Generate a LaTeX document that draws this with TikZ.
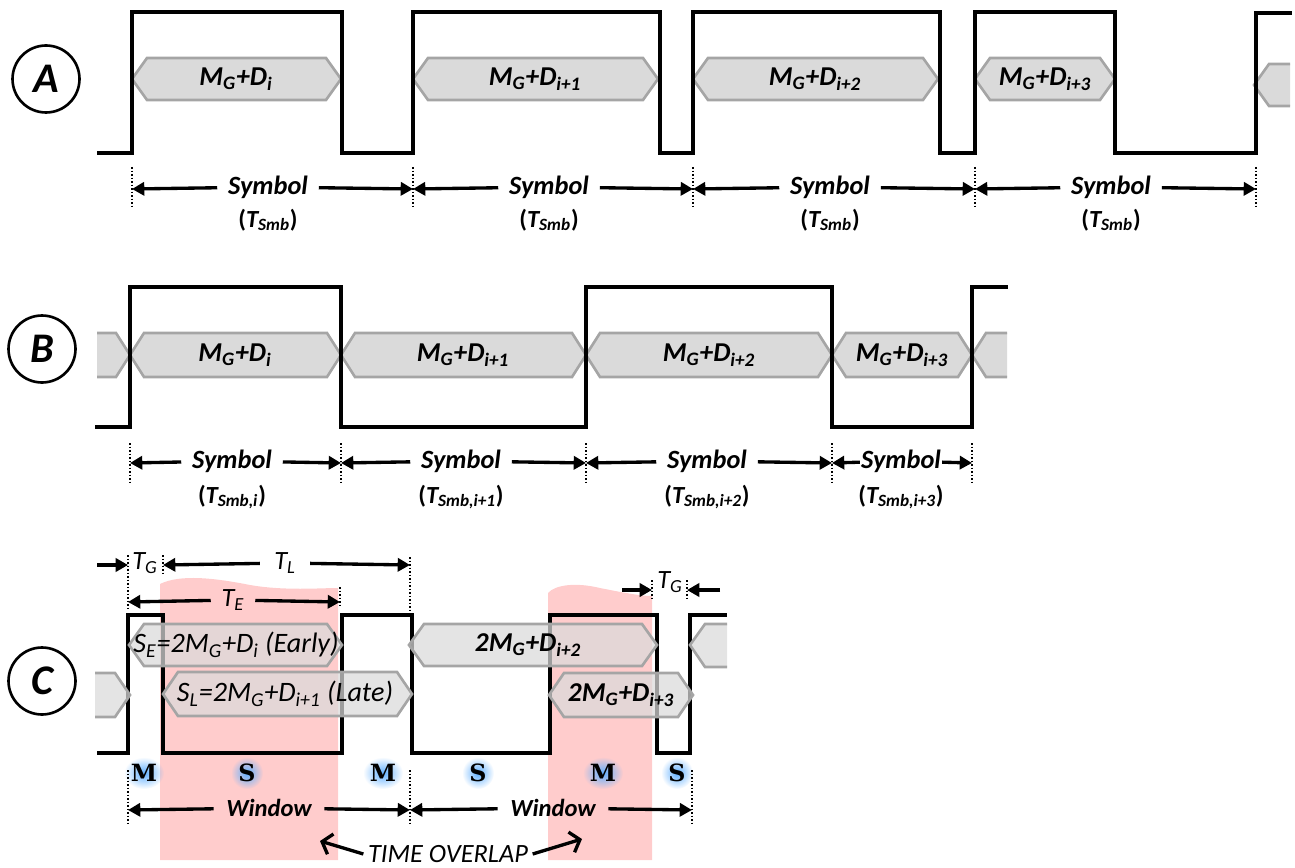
\documentclass[tikz,border=0pt]{standalone}
\usepackage{fontspec}
\setmainfont{Carlito}
\newfontfamily\slabfont{DejaVu Serif}
\usetikzlibrary{arrows.meta,fadings}
\definecolor{hexfill}{RGB}{218,218,218}
\definecolor{hexline}{RGB}{165,165,165}
\definecolor{pinkwin}{RGB}{255,204,204}
\definecolor{glowblue}{RGB}{95,175,255}
\tikzfading[name=glowfade, inner color=transparent!0, outer color=transparent!100]
\tikzset{
  sig/.style={line width=2.8pt, line join=miter, black},
  hexsh/.style={fill=hexfill, draw=hexline, line width=1.5pt, line join=miter},
  hexc/.style={hexsh, fill opacity=0.72},
  dotl/.style={line width=0.8pt, dash pattern=on 1pt off 1pt},
  arr/.style={line width=1.9pt, -{Triangle[length=7pt,width=7.5pt]}},
  barb/.style={line width=1.9pt, -{Straight Barb[length=5pt,width=12pt]}},
  lab/.style={font=\fontsize{15.5}{17}\selectfont\bfseries\itshape, inner sep=0pt},
  labc/.style={font=\fontsize{16}{18}\selectfont\itshape, inner sep=0pt},
  symlab/.style={font=\fontsize{15}{17}\selectfont\bfseries\itshape, inner xsep=6pt, inner ysep=0pt},
  tsub/.style={font=\fontsize{14}{16}\selectfont\bfseries\itshape, inner sep=0pt},
  tlab/.style={font=\fontsize{15}{17}\selectfont\itshape, inner xsep=5pt, inner ysep=0pt},
  winlab/.style={font=\fontsize{14}{16}\selectfont\bfseries\itshape, inner xsep=7pt, inner ysep=0pt},
  ovlab/.style={font=\fontsize{15}{17}\selectfont\itshape, inner xsep=2.5pt, inner ysep=0.5pt},
  circ/.style={circle, draw, line width=1.5pt, minimum size=1.34cm, inner sep=0pt,
    font=\fontsize{24}{26}\selectfont\bfseries\itshape},
  mslab/.style={font=\fontsize{13.5}{15}\selectfont\slabfont\bfseries, inner sep=0pt, text=black},
  glowblob/.style={fill=glowblue, path fading=glowfade},
}
\newcommand\hexshape[6]{%
  \draw[#1] (#2,#4) -- ({#2+#6},{#4-#5}) -- ({#3-#6},{#4-#5}) -- (#3,#4)
    -- ({#3-#6},{#4+#5}) -- ({#2+#6},{#4+#5}) -- cycle;}
\newcommand\glowtxt[5]{%
  \fill[glowblob] (#2,#3) ellipse [x radius=#5, y radius=16];
  \node[mslab] (#1) at (#2,#3) {#4};}
\begin{document}
\begin{tikzpicture}[x=0.02cm,y=-0.02cm]
\useasboundingbox (0,0) rectangle (1295,868);

% ---------- circles ----------
\node[circ] (cA) at (46,79) {A};
\node[circ] (cB) at (42,349) {B};
\node[circ] (cC) at (42,681) {C};

% ================= PANEL A =================
\hexshape{hexsh}{132}{341}{79}{21}{15}
\hexshape{hexsh}{413}{658}{79}{21}{15}
\hexshape{hexsh}{693}{938}{79}{21}{15}
\hexshape{hexsh}{975}{1115}{79}{21}{15}
\fill[hexfill] (1290,64) -- (1269,64) -- (1254,85) -- (1269,106) -- (1290,106) -- cycle;
\draw[hexline, line width=1.5pt, line join=miter] (1290,64) -- (1269,64) -- (1254,85) -- (1269,106) -- (1290,106);
\draw[sig] (97,153) -- (132,153) -- (132,12) -- (342,12) -- (342,153) -- (413,153) -- (413,12)
  -- (660,12) -- (660,153) -- (693,153) -- (693,12) -- (940,12) -- (940,153) -- (975,153)
  -- (975,12) -- (1115,12) -- (1115,153) -- (1256,153) -- (1256,13) -- (1292,13);
\node[lab] (hA1) at (236,79) {M\textsubscript{G}+D\textsubscript{i}};
\node[lab] (hA2) at (535,79) {M\textsubscript{G}+D\textsubscript{i+1}};
\node[lab] (hA3) at (815,79) {M\textsubscript{G}+D\textsubscript{i+2}};
\node[lab] (hA4) at (1045,79) {M\textsubscript{G}+D\textsubscript{i+3}};

\foreach \x in {132,413,693,975,1256}{\draw[dotl] (\x,167) -- (\x,208);}
\coordinate (dA0) at (132,189);
\coordinate (dA1) at (413,189);
\coordinate (dA2) at (693,189);
\coordinate (dA3) at (975,189);
\coordinate (dA4) at (1256,189);
\node[symlab] (sA1) at (268,187) {Symbol};
\node[symlab] (sA2) at (549,187) {Symbol};
\node[symlab] (sA3) at (830,187) {Symbol};
\node[symlab] (sA4) at (1111,187) {Symbol};
\draw[arr] (sA1) -- (dA0); \draw[arr] (sA1) -- (dA1);
\draw[arr] (sA2) -- (dA1); \draw[arr] (sA2) -- (dA2);
\draw[arr] (sA3) -- (dA2); \draw[arr] (sA3) -- (dA3);
\draw[arr] (sA4) -- (dA3); \draw[arr] (sA4) -- (dA4);
\node[tsub] (tA1) at (268,220) {\textup{(}T\textsubscript{Smb}\textup{)}};
\node[tsub] (tA2) at (549,220) {\textup{(}T\textsubscript{Smb}\textup{)}};
\node[tsub] (tA3) at (830,220) {\textup{(}T\textsubscript{Smb}\textup{)}};
\node[tsub] (tA4) at (1111,220) {\textup{(}T\textsubscript{Smb}\textup{)}};

% ================= PANEL B =================
\fill[hexfill] (97,333) -- (116,333) -- (130,355) -- (116,377) -- (97,377) -- cycle;
\draw[hexline, line width=1.5pt, line join=miter] (97,333) -- (116,333) -- (130,355) -- (116,377) -- (97,377);
\hexshape{hexsh}{130}{341}{355}{22}{14}
\hexshape{hexsh}{341}{586}{355}{22}{14}
\hexshape{hexsh}{586}{832}{355}{22}{14}
\hexshape{hexsh}{832}{972}{355}{22}{14}
\fill[hexfill] (1007,333) -- (986,333) -- (972,355) -- (986,377) -- (1007,377) -- cycle;
\draw[hexline, line width=1.5pt, line join=miter] (1007,333) -- (986,333) -- (972,355) -- (986,377) -- (1007,377);
\draw[sig] (95,427) -- (130,427) -- (130,287) -- (341,287) -- (341,427) -- (586,427) -- (586,287)
  -- (832,287) -- (832,427) -- (972,427) -- (972,287) -- (1008,287);
\node[lab] (hB1) at (235,355) {M\textsubscript{G}+D\textsubscript{i}};
\node[lab] (hB2) at (463,355) {M\textsubscript{G}+D\textsubscript{i+1}};
\node[lab] (hB3) at (709,355) {M\textsubscript{G}+D\textsubscript{i+2}};
\node[lab] (hB4) at (902,355) {M\textsubscript{G}+D\textsubscript{i+3}};

\foreach \x in {130,341,586,832,972}{\draw[dotl] (\x,443) -- (\x,485);}
\coordinate (dB0) at (130,463);
\coordinate (dB1) at (341,463);
\coordinate (dB2) at (586,463);
\coordinate (dB3) at (832,463);
\coordinate (dB4) at (972,463);
\node[symlab] (sB1) at (232,461) {Symbol};
\node[symlab] (sB2) at (461,461) {Symbol};
\node[symlab] (sB3) at (707,461) {Symbol};
\node[symlab, inner xsep=0.5pt] (sB4) at (901,461) {Symbol};
\draw[arr] (sB1) -- (dB0); \draw[arr] (sB1) -- (dB1);
\draw[arr] (sB2) -- (dB1); \draw[arr] (sB2) -- (dB2);
\draw[arr] (sB3) -- (dB2); \draw[arr] (sB3) -- (dB3);
\draw[arr] (sB4) -- (dB3); \draw[arr] (sB4) -- (dB4);
\node[tsub] (tB1) at (232,497) {\textup{(}T\textsubscript{Smb,i}\textup{)}};
\node[tsub] (tB2) at (461,497) {\textup{(}T\textsubscript{Smb,i+1}\textup{)}};
\node[tsub] (tB3) at (707,497) {\textup{(}T\textsubscript{Smb,i+2}\textup{)}};
\node[tsub] (tB4) at (901,497) {\textup{(}T\textsubscript{Smb,i+3}\textup{)}};

% ================= PANEL C =================
\fill[pinkwin] (160,584) .. controls (180,574) and (215,578) .. (250,585)
  .. controls (285,591) and (320,588) .. (338,588) -- (338,860) -- (160,860) -- cycle;
\fill[pinkwin] (548,593) .. controls (555,585) and (575,582) .. (600,588)
  .. controls (620,592) and (640,596) .. (652,596) -- (652,860) -- (548,860) -- cycle;

\draw[sig] (97,753) -- (128,753) -- (128,615) -- (163,615) -- (163,753) -- (342,753) -- (342,615)
  -- (412,615) -- (412,753) -- (550,753) -- (550,615) -- (657,615) -- (657,753) -- (690,753)
  -- (690,615) -- (727,615);

% timing marks
\draw[dotl] (128,555) -- (128,608);
\draw[dotl] (163,555) -- (163,573);
\draw[dotl] (410,557) -- (410,610);
\draw[dotl] (340,587) -- (340,605);
\draw[dotl] (652,580) -- (652,600);
\draw[dotl] (687,580) -- (687,600);
\coordinate (tgs) at (97,565);
\coordinate (tg0) at (128,565);
\coordinate (tl0) at (163,565);
\coordinate (tl1) at (410,565);
\coordinate (te0) at (128,602);
\coordinate (te1) at (340,602);
\coordinate (tg2s) at (622,590);
\coordinate (tg2a) at (652,590);
\coordinate (tg2e) at (720,590);
\coordinate (tg2b) at (687,590);
\node[tlab, inner xsep=0pt] (tG1) at (145,563) {T\textsubscript{G}};
\node[tlab, inner xsep=8pt] (tL) at (285,563) {T\textsubscript{L}};
\node[tlab, inner xsep=6pt] (tE) at (233,600) {T\textsubscript{E}};
\node[tlab, inner xsep=0pt] (tG2) at (670,582) {T\textsubscript{G}};
\draw[arr] (tgs) -- (tg0);
\draw[arr] (tL) -- (tl0); \draw[arr] (tL) -- (tl1);
\draw[arr] (tE) -- (te0); \draw[arr] (tE) -- (te1);
\draw[arr] (tg2s) -- (tg2a);
\draw[arr] (tg2e) -- (tg2b);

% hexagons (semi-transparent)
\begin{scope}[fill opacity=0.72]
\fill[hexfill] (95,673) -- (115,673) -- (130,695) -- (115,717) -- (95,717) -- cycle;
\fill[hexfill] (727,624) -- (705,624) -- (690,645) -- (705,667) -- (727,667) -- cycle;
\end{scope}
\draw[hexline, line width=1.5pt, line join=miter] (95,673) -- (115,673) -- (130,695) -- (115,717) -- (95,717);
\draw[hexline, line width=1.5pt, line join=miter] (727,624) -- (705,624) -- (690,645) -- (705,667) -- (727,667);
\hexshape{hexc}{129}{342}{645}{21}{15}
\hexshape{hexc}{163}{412}{694}{22}{15}
\hexshape{hexc}{409}{657}{645}{21}{15}
\hexshape{hexc}{549}{693}{695}{22}{15}
\node[labc] (hC1) at (236,645) {S\textsubscript{E}=2M\textsubscript{G}+D\textsubscript{i} (Early)};
\node[labc] (hC2) at (285,694) {S\textsubscript{L}=2M\textsubscript{G}+D\textsubscript{i+1} (Late)};
\node[lab] (hC3) at (528,645) {2M\textsubscript{G}+D\textsubscript{i+2}};
\node[lab] (hC4) at (621,695) {2M\textsubscript{G}+D\textsubscript{i+3}};

% M / S marks
\glowtxt{m1}{144}{773}{M}{20}
\glowtxt{s1}{247}{773}{S}{16}
\glowtxt{m2}{383}{773}{M}{20}
\glowtxt{s2}{478}{773}{S}{16}
\glowtxt{m3}{603}{773}{M}{20}
\glowtxt{s3}{677}{773}{S}{16}

% windows
\foreach \x in {128,410,692}{\draw[dotl] (\x,770) -- (\x,823);}
\coordinate (w0) at (128,810);
\coordinate (w1) at (410,810);
\coordinate (w2) at (692,810);
\node[winlab] (win1) at (269,808) {Window};
\node[winlab] (win2) at (553,808) {Window};
\draw[arr] (win1) -- (w0); \draw[arr] (win1) -- (w1);
\draw[arr] (win2) -- (w1); \draw[arr] (win2) -- (w2);

% time overlap
\node[ovlab] (tov) at (448,854) {TIME OVERLAP};
\coordinate (ov1) at (320,841);
\coordinate (ov2) at (582,839);
\draw[barb] (tov.west) -- (ov1);
\draw[barb] (tov.east) -- (ov2);
\end{tikzpicture}
\end{document}
